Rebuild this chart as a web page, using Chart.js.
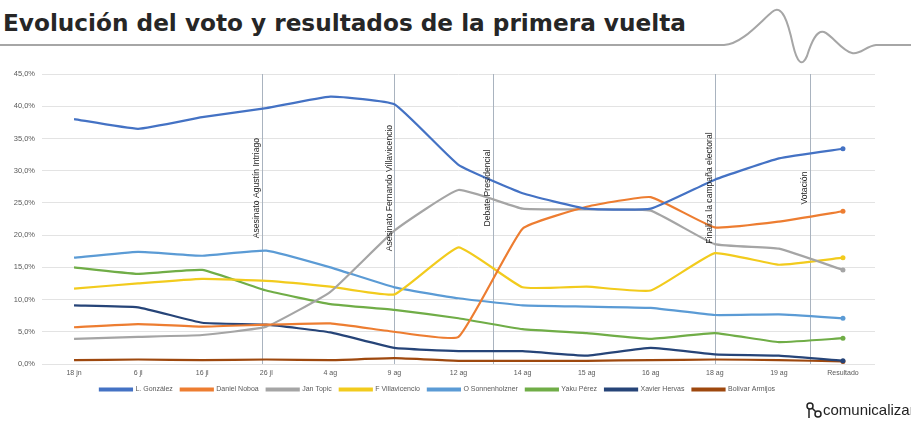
<!DOCTYPE html>
<html>
<head>
<meta charset="utf-8">
<script src="https://cdn.jsdelivr.net/npm/chart.js@4.4.1/dist/chart.umd.min.js"></script>
<style>
  body { margin: 0; background: #fff; width: 911px; height: 423px; overflow: hidden; position: relative; }
  #title { position: absolute; left: 3px; top: 9px; font-family: "DejaVu Sans"; font-weight: bold; font-size: 23.2px; color: #262626; white-space: nowrap; }
  #deco { position: absolute; left: 0; top: 0; }
  #chartBox { position: absolute; left: 0; top: 60px; width: 911px; height: 343px; }
  #logo { position: absolute; left: 805px; top: 401px; width: 106px; height: 22px; overflow: hidden; white-space: nowrap; font-family: "Liberation Sans"; font-size: 15px; color: #222; }
</style>
</head>
<body>
<div id="title">Evolución del voto y resultados de la primera vuelta</div>
<svg id="deco" width="911" height="70">
  <path d="M0 45 L724 45 C742 44 760 22 772 12 C782 3 788 22 793 45 C797 62 802 68 807 56 C812 40 817 30 824 32 C832 35 842 51 852 53 C860 55 866 46 876 45 L911 45" fill="none" stroke="#a6a6a6" stroke-width="2"/>
</svg>
<div id="chartBox"><canvas id="voteChart"></canvas></div>
<div id="logo">
  <svg width="18" height="18" style="vertical-align:-4px"><circle cx="5" cy="5" r="3" fill="none" stroke="#222" stroke-width="1.5"/><circle cx="13" cy="13" r="3" fill="none" stroke="#222" stroke-width="1.5"/><path d="M4 8 L4 17 M7 7 L10.5 10.5" stroke="#222" stroke-width="1.5"/></svg>comunicalizando
</div>
<script>
const categories = ['18 jn', '6 jl', '16 jl', '26 jl', '4 ag', '9 ag', '12 ag', '14 ag', '15 ag', '16 ag', '18 ag', '19 ag', 'Resultado'];

const gonzalez      = [38.0, 36.5, 38.3, 39.7, 41.5, 40.3, 30.9, 26.5, 24.1, 24.1, 28.6, 31.9, 33.4];
const noboa         = [5.7, 6.2, 5.8, 6.1, 6.3, 5.0, 4.2, 21.0, 24.4, 25.9, 21.2, 22.1, 23.7];
const topic         = [3.9, 4.2, 4.5, 5.8, 11.2, 20.7, 27.0, 24.1, 24.0, 23.8, 18.6, 17.9, 14.6];
const villavicencio = [11.7, 12.5, 13.2, 12.9, 12.0, 10.8, 18.1, 11.9, 12.0, 11.4, 17.2, 15.4, 16.5];
const sonnenholzner = [16.5, 17.4, 16.8, 17.6, 15.0, 11.9, 10.2, 9.1, 8.9, 8.7, 7.6, 7.7, 7.1];
const perez         = [15.0, 14.0, 14.6, 11.4, 9.3, 8.4, 7.1, 5.4, 4.8, 3.9, 4.8, 3.4, 4.0];
const hervas        = [9.1, 8.8, 6.4, 6.1, 4.9, 2.5, 2.0, 2.0, 1.3, 2.5, 1.5, 1.3, 0.5];
const armijos       = [0.6, 0.7, 0.6, 0.7, 0.6, 0.9, 0.5, 0.5, 0.5, 0.6, 0.7, 0.6, 0.4];

// events marked with vertical lines (position in category units)
const eventLabels = ['Asesinato Agustín Intriago', 'Asesinato Fernando Villavicencio', 'Debate Presidencial', 'Finaliza la campaña electoral', 'Votación'];
const eventPositions = [2.93, 5, 6.54, 10, 11.49];

function series(label, data, color) {
    return {
        label: label,
        data: data,
        borderColor: color,
        backgroundColor: color,
        borderWidth: 2.2,
        tension: 0.12,
        pointRadius: ctx => ctx.dataIndex === categories.length - 1 ? 2.5 : 0,
        pointBackgroundColor: color,
        pointBorderWidth: 0
    };
}

const eventLines = {
    id: 'eventLines',
    beforeDatasetsDraw(chart) {
        const { ctx, chartArea, scales } = chart;
        ctx.save();
        ctx.strokeStyle = '#a9b3bf';
        ctx.lineWidth = 1;
        eventPositions.forEach(p => {
            const x = Math.round(scales.x.getPixelForValue(p)) + 0.5;
            ctx.beginPath();
            ctx.moveTo(x, chartArea.top);
            ctx.lineTo(x, chartArea.bottom);
            ctx.stroke();
        });
        ctx.restore();
    },
    afterDatasetsDraw(chart) {
        const { ctx, scales } = chart;
        const yMid = scales.y.getPixelForValue(27.3);
        ctx.save();
        ctx.font = '8.6px "Liberation Sans"';
        ctx.fillStyle = '#262626';
        ctx.textAlign = 'center';
        ctx.textBaseline = 'bottom';
        eventPositions.forEach((p, i) => {
            const x = scales.x.getPixelForValue(p);
            ctx.save();
            ctx.translate(x - 1, yMid);
            ctx.rotate(-Math.PI / 2);
            ctx.fillText(eventLabels[i], 0, 0);
            ctx.restore();
        });
        ctx.restore();
    }
};

new Chart(document.getElementById('voteChart'), {
    type: 'line',
    data: {
        labels: categories,
        datasets: [
            series('L. González', gonzalez, '#4472C4'),
            series('Daniel Noboa', noboa, '#ED7D31'),
            series('Jan Topic', topic, '#A5A5A5'),
            series('F Villavicencio', villavicencio, '#F2CB1D'),
            series('O Sonnenholzner', sonnenholzner, '#5B9BD5'),
            series('Yaku Pérez', perez, '#70AD47'),
            series('Xavier Hervas', hervas, '#264478'),
            series('Bolívar Armijos', armijos, '#9E480E')
        ]
    },
    options: {
        responsive: true,
        maintainAspectRatio: false,
        animation: false,
        layout: { padding: { top: 14, right: 36, left: 0, bottom: 0 } },
        plugins: {
            legend: {
                position: 'bottom',
                labels: {
                    boxWidth: 32,
                    boxHeight: 2,
                    padding: 8,
                    color: '#595959',
                    font: { family: 'Liberation Sans', size: 7 }
                }
            },
            tooltip: { enabled: false }
        },
        scales: {
            x: {
                offset: true,
                afterFit: s => { s.height = 14; },
                grid: { display: false, drawTicks: false },
                border: { display: false },
                ticks: { color: '#595959', font: { family: 'Liberation Sans', size: 7 }, maxRotation: 0, autoSkip: false, padding: 5 }
            },
            y: {
                min: 0,
                max: 45,
                afterFit: s => { s.width = 42; },
                border: { display: false },
                grid: { color: '#e3e3e3', drawTicks: false },
                ticks: {
                    stepSize: 5,
                    padding: 7,
                    color: '#595959',
                    font: { family: 'Liberation Sans', size: 7.5 },
                    callback: v => v.toFixed(1).replace('.', ',') + '%'
                }
            }
        }
    },
    plugins: [eventLines]
});
</script>
</body>
</html>
